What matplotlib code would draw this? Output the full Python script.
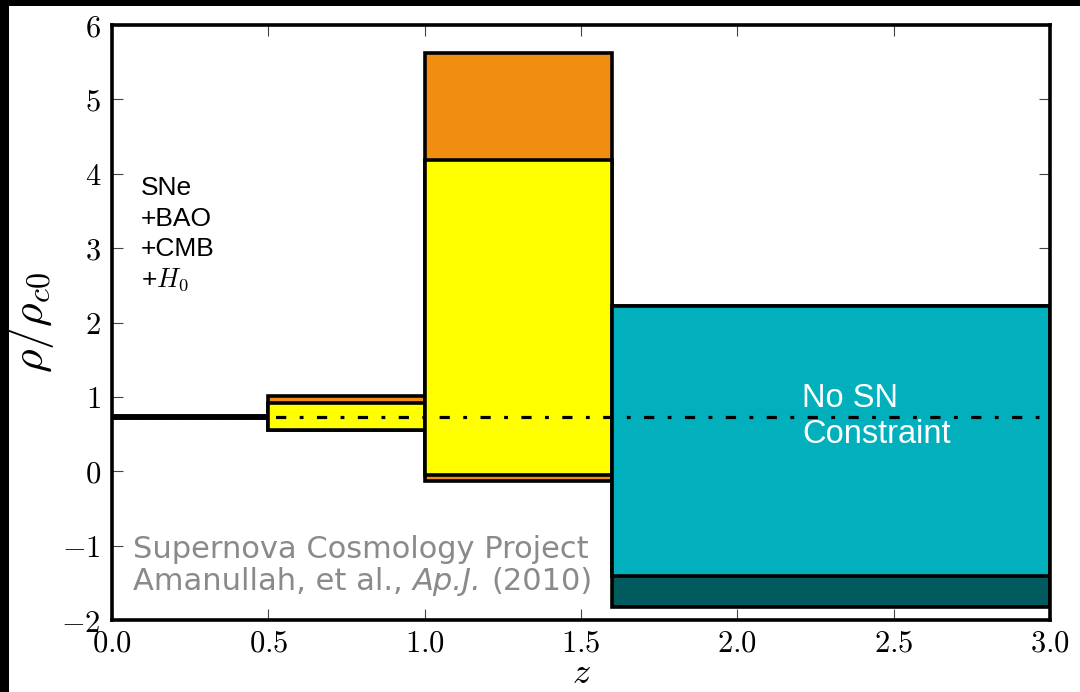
import matplotlib
matplotlib.use("Agg")
import matplotlib.pyplot as plt
from matplotlib.patches import Rectangle
from matplotlib.ticker import FuncFormatter

plt.rcParams['mathtext.fontset'] = 'cm'

# Redshift bins (edges) and density constraints rho/rho_c0 per bin
bin_lo = [0.0, 0.5, 1.0, 1.6]
bin_hi = [0.5, 1.0, 1.6, 3.0]
# outer (2-sigma) band
outer_lo = [0.715, 0.55, -0.13, -1.83]
outer_hi = [0.745, 1.01, 5.62, 2.22]
# inner (1-sigma) band
inner_lo = [0.715, 0.56, -0.05, -1.41]
inner_hi = [0.745, 0.92, 4.19, 2.22]
outer_colors = ['#FFFF00', '#F18E12', '#F18E12', '#005A5E']
inner_colors = ['#FFFF00', '#FFFF00', '#FFFF00', '#02AFBC']

lambda_density = 0.73
x_ticks = [0.0, 0.5, 1.0, 1.5, 2.0, 2.5, 3.0]
y_ticks = [-2, -1, 0, 1, 2, 3, 4, 5, 6]

probe_lines = ['SNe', '+BAO', '+CMB', '+$H_0$']
note_lines = ['No SN', 'Constraint']
credit_line1 = 'Supernova Cosmology Project'
credit_parts2 = ['Amanullah, et al.,', 'Ap.J.', '(2010)']

fig = plt.figure(figsize=(10.8, 6.92), dpi=100, facecolor='white')
ax = fig.add_axes([112 / 1080, 1 - 620 / 692, 938 / 1080, 595 / 692])

widths = [h - l for l, h in zip(bin_lo, bin_hi)]
ax.bar(bin_lo, [h - l for l, h in zip(outer_lo, outer_hi)], width=widths,
       bottom=outer_lo, align='edge', color=outer_colors,
       edgecolor='black', linewidth=2.6, zorder=2)
ax.bar(bin_lo, [h - l for l, h in zip(inner_lo, inner_hi)], width=widths,
       bottom=inner_lo, align='edge', color=inner_colors,
       edgecolor='black', linewidth=2.6, zorder=3)

ax.plot([0.0, 3.0], [lambda_density, lambda_density], color='black',
        linewidth=2.3, linestyle=(0, (3.2, 4.2, 1.2, 4.2)), zorder=4)

ax.set_xlim(0, 3)
ax.set_ylim(-2, 6)
ax.set_xticks(x_ticks)
ax.set_yticks(y_ticks)
ax.xaxis.set_major_formatter(FuncFormatter(lambda v, p: r'$%.1f$' % v))
ax.yaxis.set_major_formatter(FuncFormatter(lambda v, p: r'$%d$' % v))
ax.tick_params(direction='in', length=8, width=0.8, color='#444444',
               top=True, right=True, labelsize=22, pad=8)
ax.tick_params(axis='x', pad=6)
for sp in ax.spines.values():
    sp.set_linewidth(2.6)
    sp.set_zorder(6)

ax.set_xlabel(r'$z$', fontsize=26, labelpad=-1)
ax.set_ylabel(r'$\rho/\rho_{c0}$', fontsize=33, labelpad=4)

# probe combination list, one baseline per line (axes fraction)
for i, s in enumerate(probe_lines):
    ax.text(0.031, 0.714 - i * 0.0512, s, fontsize=19, family='Liberation Sans',
            va='baseline', ha='left', color='black', transform=ax.transAxes,
            zorder=7)

for i, s in enumerate(note_lines):
    ax.text(0.7356, 0.358 - i * 0.061, s, fontsize=23.5, family='Liberation Sans',
            va='baseline', ha='left', color='white', transform=ax.transAxes,
            zorder=7)

grey = '#8a8a8a'
ax.text(0.0224, 0.104, credit_line1, fontsize=22, family='DejaVu Sans',
        va='baseline', ha='left', color=grey, transform=ax.transAxes, zorder=7)
t = ax.text(0.0224, 0.050, credit_parts2[0], fontsize=22, family='DejaVu Sans',
            va='baseline', ha='left', color=grey, transform=ax.transAxes, zorder=7)
t = ax.annotate(credit_parts2[1], xy=(1, 0), xycoords=t, xytext=(7, 0),
                textcoords='offset points', fontsize=22, family='DejaVu Sans',
                fontstyle='italic', va='bottom', ha='left', color=grey, zorder=7)
ax.annotate(credit_parts2[2], xy=(1, 0), xycoords=t, xytext=(7, 0),
            textcoords='offset points', fontsize=22, family='DejaVu Sans',
            va='bottom', ha='left', color=grey, zorder=7)

# dark frame strips along the top and left edges
fig.patches.append(Rectangle((0, 1 - 6 / 692), 1, 6 / 692, transform=fig.transFigure,
                             facecolor='black', edgecolor='none', zorder=10))
fig.patches.append(Rectangle((0, 0), 9 / 1080, 1, transform=fig.transFigure,
                             facecolor='black', edgecolor='none', zorder=10))

fig.savefig('out.png', dpi=100, facecolor='white')
